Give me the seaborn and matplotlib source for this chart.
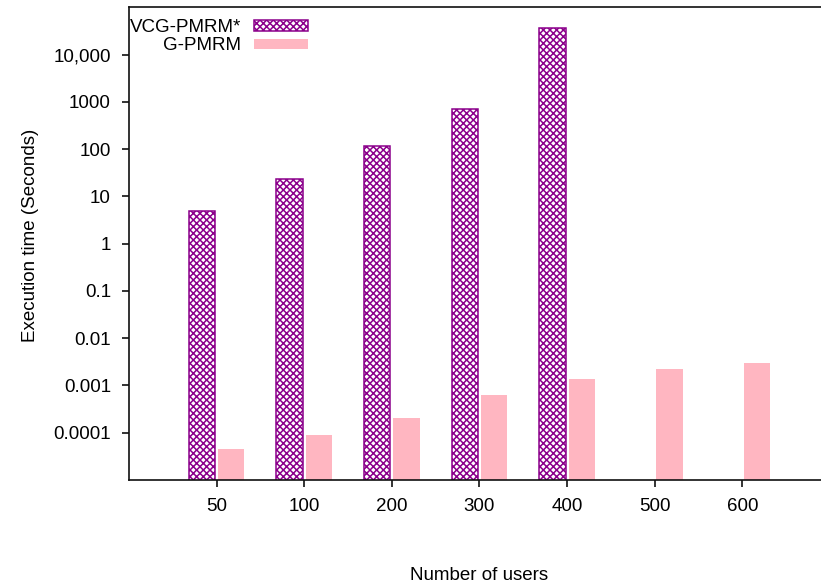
import numpy as np
import pandas as pd
import matplotlib
matplotlib.use("Agg")
import matplotlib.pyplot as plt
from matplotlib.ticker import NullLocator
import seaborn as sns

# Execution time per number of users, for both mechanisms
users = ["50", "100", "200", "300", "400", "500", "600"]
series_names = ["VCG-PMRM*", "G-PMRM"]
vcg_pmrm = [4.9, 24, 117, 711, 37000, np.nan, np.nan]
g_pmrm = [4.5e-5, 8.9e-5, 2.05e-4, 6.3e-4, 1.37e-3, 2.24e-3, 3.0e-3]

ytick_values = [1e-4, 1e-3, 1e-2, 1e-1, 1, 10, 100, 1000, 10000]
ytick_labels = ["0.0001", "0.001", "0.01", "0.1", "1", "10", "100", "1000", "10,000"]

PURPLE = "#8B008B"
PINK = "#FFB6C1"
FS = 13.5

df = pd.DataFrame({
    "users": users * 2,
    "series": [series_names[0]] * len(users) + [series_names[1]] * len(users),
    "time": vcg_pmrm + g_pmrm,
}).dropna()

sns.set_style("ticks")
plt.rcParams["font.family"] = ["Liberation Sans", "DejaVu Sans"]
plt.rcParams["text.color"] = "black"
plt.rcParams["axes.labelcolor"] = "black"
plt.rcParams["hatch.color"] = PURPLE
plt.rcParams["hatch.linewidth"] = 1.1

fig = plt.figure(figsize=(8.21, 5.85), dpi=100)
ax = fig.add_axes([0.1571, 0.1795, 0.8538, 0.8077])
ax.set_yscale("log")

sns.barplot(
    data=df, x="users", y="time", hue="series",
    order=users, hue_order=series_names,
    palette={series_names[0]: "white", series_names[1]: PINK},
    width=0.672, gap=0.107, saturation=1, errorbar=None,
    legend=False, ax=ax,
)

for bar in ax.containers[0]:
    bar.set_hatch("xxxxx")
    bar.set_edgecolor(PURPLE)
    bar.set_linewidth(1.1)
for bar in ax.containers[1]:
    bar.set_linewidth(0)

ax.set_xlim(-1, 7)
ax.set_ylim(1e-5, 1e5)
ax.set_yticks(ytick_values, ytick_labels)
ax.yaxis.set_minor_locator(NullLocator())

for side in ["left", "bottom", "top"]:
    ax.spines[side].set_linewidth(1.2)
    ax.spines[side].set_color("#111111")
ax.spines["right"].set_visible(False)

ax.tick_params(axis="both", which="major", direction="out", length=5, width=1.2,
               labelsize=FS, pad=8, colors="#111111", labelcolor="black",
               top=False, right=False)

ax.set_xlabel("Number of users", fontsize=FS)
ax.xaxis.set_label_coords(0.5, -0.2116)
ax.xaxis.label.set_va("baseline")
ax.set_ylabel("Execution time (Seconds)", fontsize=FS)
ax.yaxis.set_label_coords(-0.1341, 0.5185)
ax.yaxis.label.set_va("baseline")

ax.legend(
    [ax.containers[0], ax.containers[1]], series_names,
    loc="upper left", bbox_to_anchor=(130 / 821, 1 - 19 / 585),
    bbox_transform=fig.transFigure, frameon=False, markerfirst=False,
    borderpad=0, borderaxespad=0, handlelength=2.88, handleheight=0.5,
    handletextpad=0.69, labelspacing=0.08, fontsize=FS,
)

fig.savefig("out.png", dpi=100)
